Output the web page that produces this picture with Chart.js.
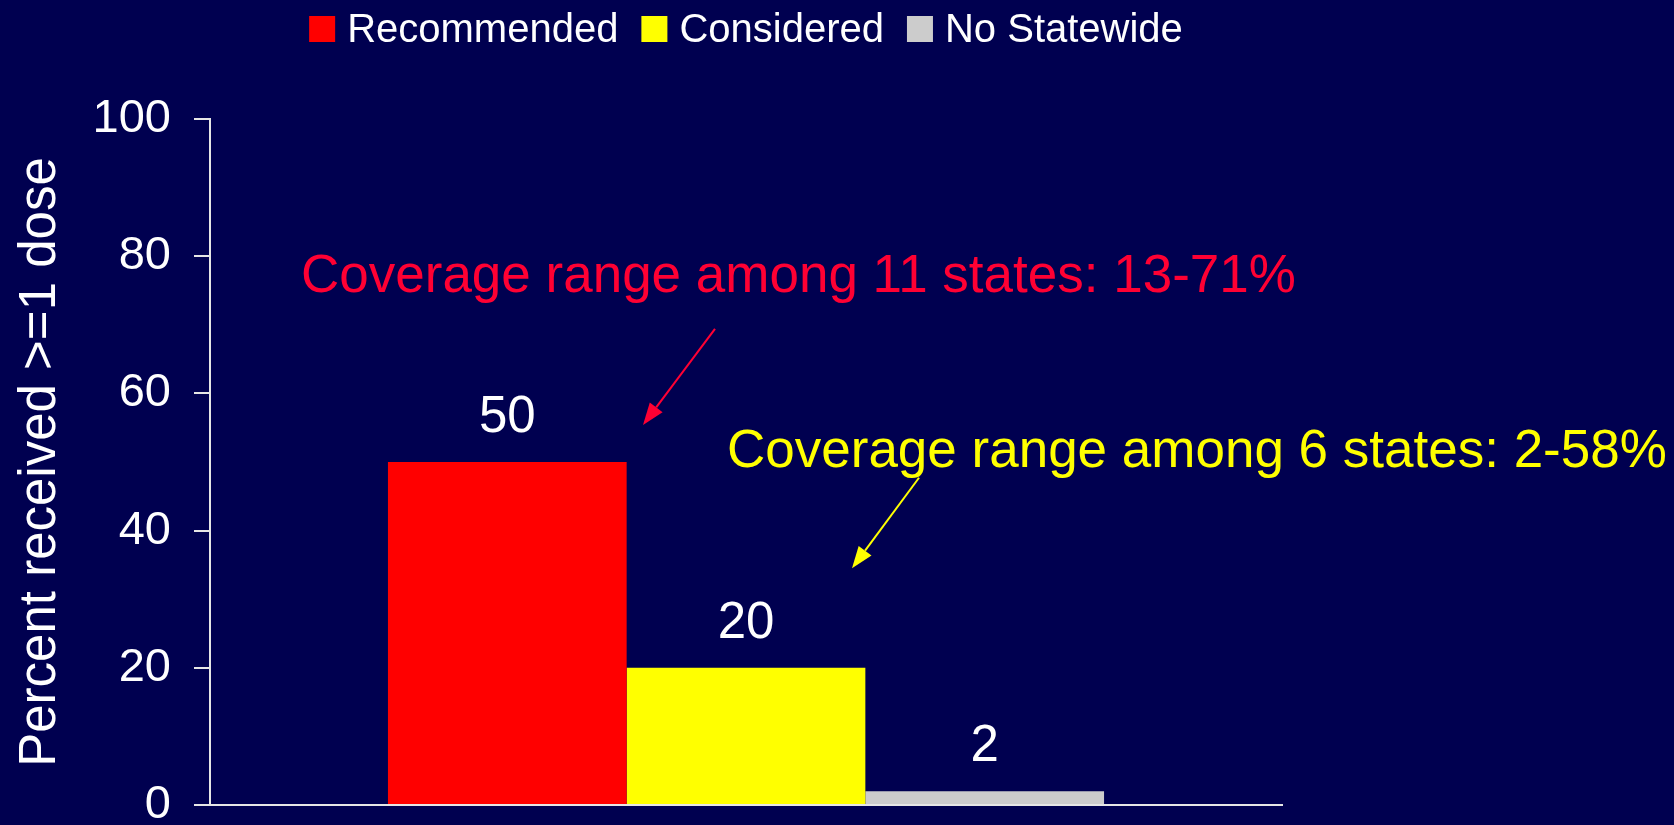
<!DOCTYPE html>
<html>
<head>
<meta charset="utf-8">
<title>Percent received >=1 dose</title>
<script src="https://cdn.jsdelivr.net/npm/chart.js@4.4.1/dist/chart.umd.min.js"></script>
<style>
  html, body {
    margin: 0;
    padding: 0;
    background: #000050;
    overflow: hidden;
  }
  canvas {
    display: block;
  }
</style>
</head>
<body>
<canvas id="coverageChart" width="1674" height="825"></canvas>
<script>
// Data
const categories = [""];
const seriesNames = ["Recommended", "Considered", "No Statewide"];
const recommended = [50];
const considered = [20];
const noStatewide = [2];
const yTicks = [0, 20, 40, 60, 80, 100];

const seriesColors = ["#ff0000", "#ffff00", "#cccccc"];
const axisColor = "#e6e6e6";
const fontFamily = "'Liberation Sans', Arial, sans-serif";

// Callout notes: text baseline / arrow ends given in axis units (y) and px from plot left (x)
const notes = [
  {
    text: "Coverage range among 11 states: 13-71%",
    color: "#ff0033",
    textX: 91,
    textY: 74.8,
    from: [505, 69.4],
    to: [433, 55.4],
  },
  {
    text: "Coverage range among 6 states: 2-58%",
    color: "#ffff00",
    textX: 517,
    textY: 49.3,
    from: [709, 47.7],
    to: [642, 34.5],
  },
];

// Value labels above each bar
const valueLabels = {
  id: "valueLabels",
  afterDatasetsDraw(chart) {
    const ctx = chart.ctx;
    ctx.save();
    ctx.fillStyle = "#ffffff";
    ctx.font = "51px " + fontFamily;
    ctx.textAlign = "center";
    ctx.textBaseline = "alphabetic";
    chart.data.datasets.forEach((ds, i) => {
      const meta = chart.getDatasetMeta(i);
      meta.data.forEach((bar, j) => {
        ctx.fillText(String(ds.data[j]), bar.x, bar.y - 30);
      });
    });
    ctx.restore();
  },
};

// Legend row across the top, centred on the plot
const topLegend = {
  id: "topLegend",
  afterDraw(chart) {
    const ctx = chart.ctx;
    const box = 26;
    const gap = 12;
    const spacing = 23;
    ctx.save();
    ctx.font = "40px " + fontFamily;
    ctx.textBaseline = "alphabetic";
    ctx.textAlign = "left";
    const items = chart.data.datasets.map((ds) => ({
      label: ds.label,
      color: ds.backgroundColor,
      w: ctx.measureText(ds.label).width,
    }));
    let total = items.reduce((s, it) => s + box + gap + it.w, 0);
    total += spacing * (items.length - 1);
    const area = chart.chartArea;
    let x = (area.left + area.right) / 2 - total / 2;
    const top = 16;
    items.forEach((it) => {
      ctx.fillStyle = it.color;
      ctx.fillRect(x, top, box, box);
      ctx.fillStyle = "#ffffff";
      ctx.fillText(it.label, x + box + gap, top + box);
      x += box + gap + it.w + spacing;
    });
    ctx.restore();
  },
};

// Coverage range callouts with arrows
const callouts = {
  id: "callouts",
  afterDraw(chart) {
    const ctx = chart.ctx;
    const y = chart.scales.y;
    const left = chart.chartArea.left;
    ctx.save();
    notes.forEach((n) => {
      ctx.fillStyle = n.color;
      ctx.strokeStyle = n.color;
      ctx.font = "53px " + fontFamily;
      ctx.textAlign = "left";
      ctx.textBaseline = "alphabetic";
      ctx.fillText(n.text, left + n.textX, y.getPixelForValue(n.textY));

      const x1 = left + n.from[0];
      const y1 = y.getPixelForValue(n.from[1]);
      const x2 = left + n.to[0];
      const y2 = y.getPixelForValue(n.to[1]);
      const ang = Math.atan2(y2 - y1, x2 - x1);
      const headLen = 22;
      const headW = 8;
      const bx = x2 - headLen * Math.cos(ang);
      const by = y2 - headLen * Math.sin(ang);

      ctx.lineWidth = 2;
      ctx.beginPath();
      ctx.moveTo(x1, y1);
      ctx.lineTo(bx, by);
      ctx.stroke();

      ctx.beginPath();
      ctx.moveTo(x2, y2);
      ctx.lineTo(bx + headW * Math.sin(ang), by - headW * Math.cos(ang));
      ctx.lineTo(bx - headW * Math.sin(ang), by + headW * Math.cos(ang));
      ctx.closePath();
      ctx.fill();
    });
    ctx.restore();
  },
};

const ctx = document.getElementById("coverageChart").getContext("2d");
const coverageChart = new Chart(ctx, {
  type: "bar",
  data: {
    labels: categories,
    datasets: [
      { label: seriesNames[0], data: recommended, backgroundColor: seriesColors[0] },
      { label: seriesNames[1], data: considered, backgroundColor: seriesColors[1] },
      { label: seriesNames[2], data: noStatewide, backgroundColor: seriesColors[2] },
    ],
  },
  options: {
    responsive: false,
    animation: false,
    devicePixelRatio: 1,
    categoryPercentage: 0.668,
    barPercentage: 1,
    layout: {
      padding: { top: 119, right: 392, bottom: 0, left: 0 },
    },
    plugins: {
      legend: { display: false },
      tooltip: { enabled: false },
    },
    scales: {
      x: {
        ticks: { display: false },
        grid: { display: false },
        border: { display: true, color: axisColor, width: 2 },
        afterFit: (s) => {
          s.height = 20;
        },
      },
      y: {
        min: 0,
        max: 100,
        afterBuildTicks: (s) => {
          s.ticks = yTicks.map((v) => ({ value: v }));
        },
        ticks: {
          color: "#ffffff",
          padding: 23,
          font: { family: fontFamily, size: 47 },
        },
        grid: {
          drawOnChartArea: false,
          drawTicks: true,
          tickLength: 16,
          color: axisColor,
          lineWidth: 2,
        },
        border: { display: true, color: axisColor, width: 2 },
        title: {
          display: true,
          text: "Percent received >=1 dose",
          color: "#ffffff",
          font: { family: fontFamily, size: 51 },
          padding: { top: 10, bottom: 0 },
        },
        afterFit: (s) => {
          s.width = 210;
          s.paddingTop = 0;
          s.paddingBottom = 0;
        },
      },
    },
  },
  plugins: [valueLabels, topLegend, callouts],
});
</script>
</body>
</html>
